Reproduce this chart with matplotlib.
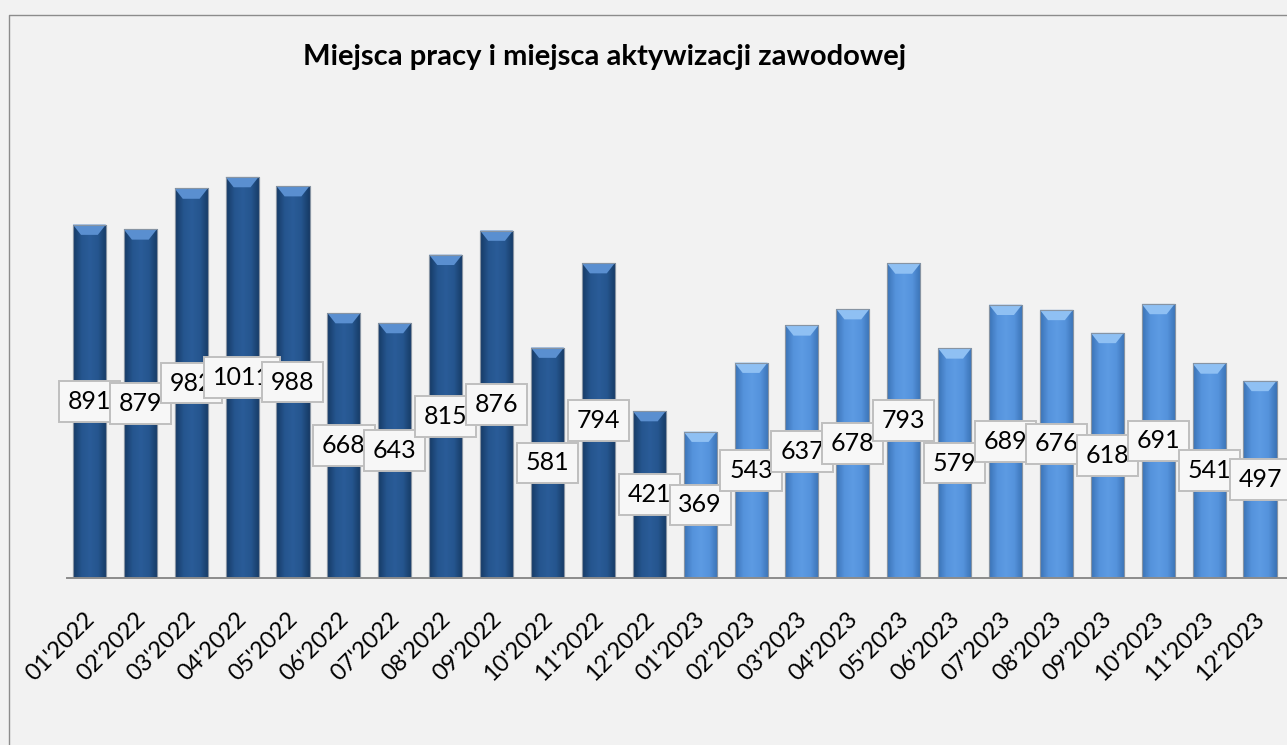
import matplotlib
matplotlib.use("Agg")
import matplotlib.pyplot as plt
import matplotlib.transforms as mtransforms
import numpy as np
from matplotlib.patches import Rectangle, Polygon
from matplotlib.lines import Line2D
from matplotlib.colors import LinearSegmentedColormap

months = ["01'2022", "02'2022", "03'2022", "04'2022", "05'2022", "06'2022",
          "07'2022", "08'2022", "09'2022", "10'2022", "11'2022", "12'2022",
          "01'2023", "02'2023", "03'2023", "04'2023", "05'2023", "06'2023",
          "07'2023", "08'2023", "09'2023", "10'2023", "11'2023", "12'2023"]
values = [891, 879, 982, 1011, 988, 668, 643, 815, 876, 581, 794, 421,
          369, 543, 637, 678, 793, 579, 689, 676, 618, 691, 541, 497]
title = "Miejsca pracy i miejsca aktywizacji zawodowej"

plt.rcParams['font.family'] = ['Lato', 'DejaVu Sans']

fig = plt.figure(figsize=(12.87, 7.45), dpi=100)
fig.patch.set_facecolor('#f2f2f2')
bx0, by1 = 8.5/1287, 1 - 14.5/745
fig.add_artist(Line2D([bx0, bx0, 1], [0, by1, by1], transform=fig.transFigure,
                      color='#8c8c8c', linewidth=1.0))

ax = fig.add_axes([67/1287, 167/745, 1 - 67/1287, 478/745])
ax.set_facecolor('#f2f2f2')
ax.set_xlim(-0.44, 23.53)
ax.set_ylim(0, 1205)

x = np.arange(len(values))
w = 0.65

cmap_dark = LinearSegmentedColormap.from_list('d', ['#163a64', '#25558e', '#2a5c98', '#25558e', '#163a64'])
cmap_light = LinearSegmentedColormap.from_list('l', ['#3b73b6', '#5593dc', '#5d9be3', '#5593dc', '#3b73b6'])
grad = np.linspace(0, 1, 64).reshape(1, -1)

for i, v in enumerate(values):
    is_dark = i < 12
    cm = cmap_dark if is_dark else cmap_light
    bars = ax.bar(x[i], v, width=w, color=cm(0.5), edgecolor='#9aa4b0',
                  linewidth=0.8, zorder=2)
    b = bars[0]
    im = ax.imshow(grad, extent=(x[i] - w/2, x[i] + w/2, 0, v), aspect='auto',
                   cmap=cm, zorder=2.1)
    im.set_clip_path(b)
    cap = 26
    hl = '#5a8fd0' if is_dark else '#8fc0f3'
    ax.add_patch(Polygon([(x[i] - w/2, v), (x[i] + w/2, v),
                          (x[i] + w/2 - 0.16, v - cap), (x[i] - w/2 + 0.16, v - cap)],
                         closed=True, facecolor=hl, edgecolor='none', zorder=2.2))
    ax.add_patch(Rectangle((x[i] - w/2, 0), w, v, fill=False,
                           edgecolor='#8794a3', linewidth=0.8, zorder=2.3))

for i, v in enumerate(values):
    ax.text(x[i], v / 2, str(v), ha='center', va='center', fontsize=18,
            color='black', zorder=5,
            bbox=dict(boxstyle='square,pad=0.35', facecolor='#f7f7f7',
                      edgecolor='#bfbfbf', linewidth=1.4))

for s in ['top', 'right', 'left']:
    ax.spines[s].set_visible(False)
ax.spines['bottom'].set_color('#8c8c8c')
ax.spines['bottom'].set_linewidth(1.4)
ax.set_yticks([])
ax.set_xticks(x)
ax.set_xticklabels(months, rotation=45, ha='right', va='top',
                   rotation_mode='anchor', fontsize=17)
ax.tick_params(axis='x', length=0, pad=22)
off = mtransforms.ScaledTranslation(-6/100, 0, fig.dpi_scale_trans)
for lab in ax.get_xticklabels():
    lab.set_transform(lab.get_transform() + off)

fig.text(605/1287, 1 - 57/745, title, ha='center', va='center',
         fontsize=21, fontweight='bold')

fig.savefig('out.png', dpi=100, facecolor=fig.get_facecolor())
